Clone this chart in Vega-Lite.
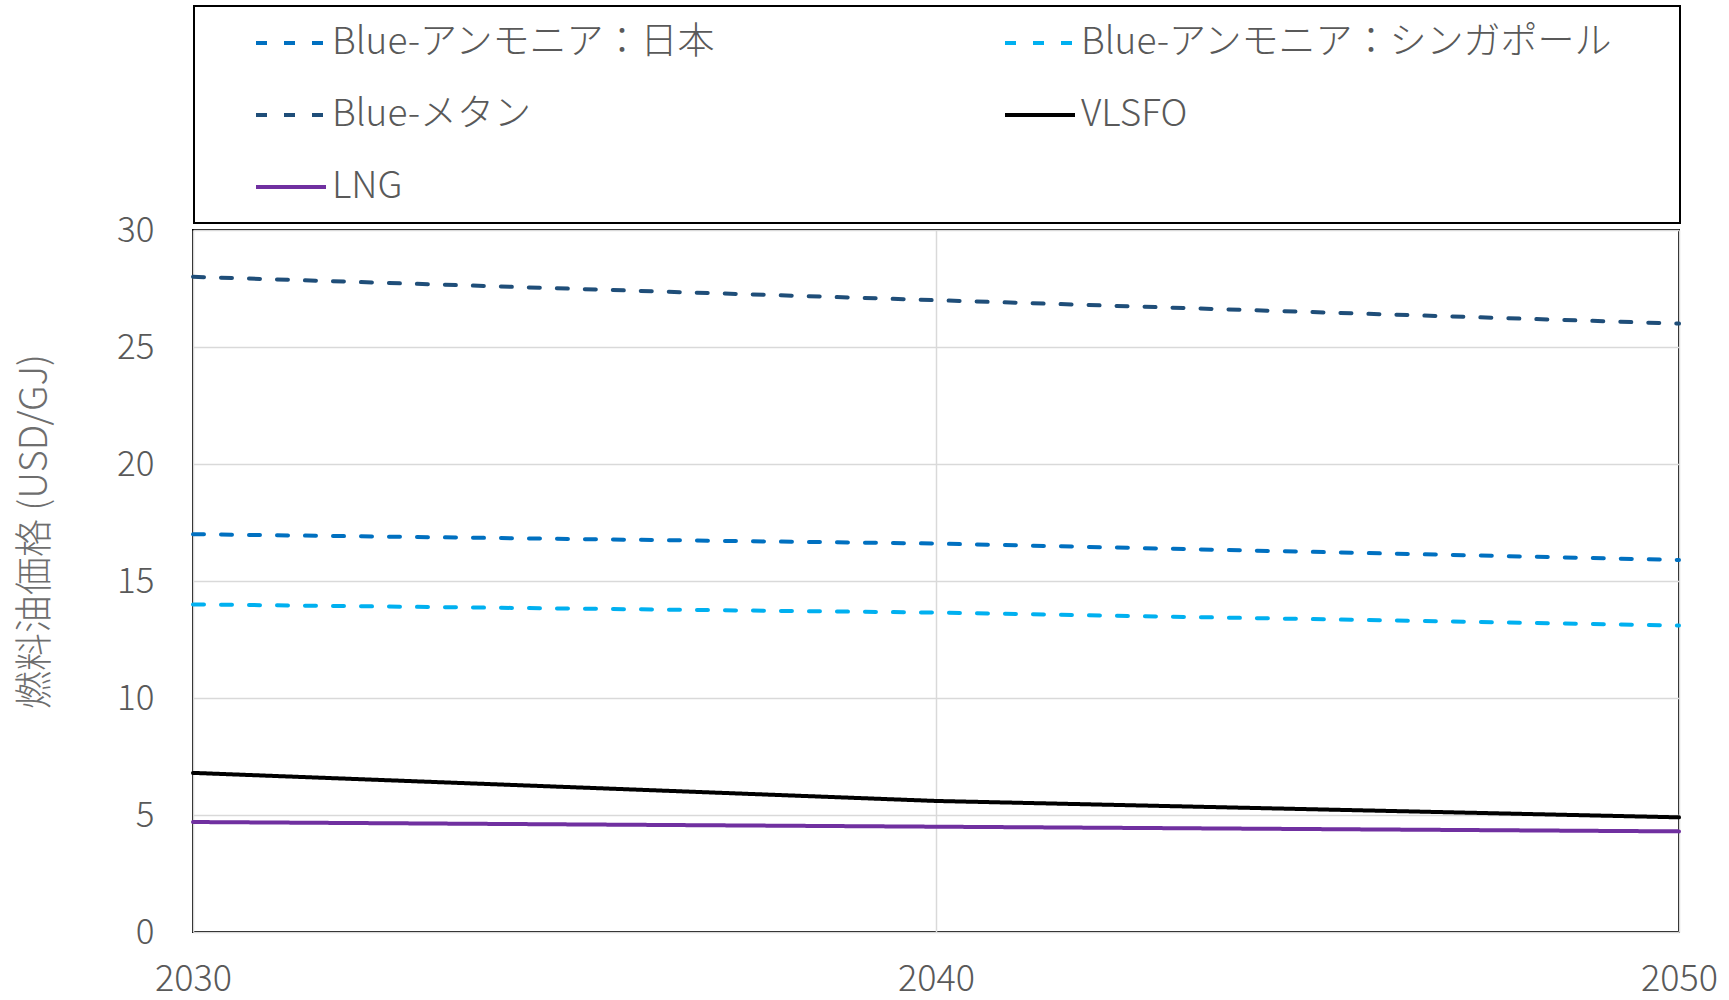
{
  "$schema": "https://vega.github.io/schema/vega-lite/v6.json",
  "width": 1486,
  "height": 702,
  "autosize": {"type": "none"},
  "padding": {"left": 193, "top": 230, "right": 50, "bottom": 68},
  "background": "white",
  "data": {
    "values": [
      {"year": 2030, "series": "Blue-アンモニア：日本", "price": 17.0},
      {"year": 2040, "series": "Blue-アンモニア：日本", "price": 16.6},
      {"year": 2050, "series": "Blue-アンモニア：日本", "price": 15.9},
      {"year": 2030, "series": "Blue-アンモニア：シンガポール", "price": 14.0},
      {"year": 2040, "series": "Blue-アンモニア：シンガポール", "price": 13.65},
      {"year": 2050, "series": "Blue-アンモニア：シンガポール", "price": 13.1},
      {"year": 2030, "series": "Blue-メタン", "price": 28.0},
      {"year": 2040, "series": "Blue-メタン", "price": 27.0},
      {"year": 2050, "series": "Blue-メタン", "price": 26.0},
      {"year": 2030, "series": "VLSFO", "price": 6.8},
      {"year": 2040, "series": "VLSFO", "price": 5.6},
      {"year": 2050, "series": "VLSFO", "price": 4.9},
      {"year": 2030, "series": "LNG", "price": 4.7},
      {"year": 2040, "series": "LNG", "price": 4.5},
      {"year": 2050, "series": "LNG", "price": 4.3}
    ]
  },
  "mark": {"type": "line", "strokeWidth": 4, "strokeCap": "round"},
  "encoding": {
    "x": {
      "field": "year",
      "type": "quantitative",
      "scale": {"domain": [2030, 2050], "nice": false, "zero": false},
      "axis": {
        "title": null,
        "values": [2030, 2040, 2050],
        "format": "d",
        "ticks": false,
        "domain": false,
        "labelFontSize": 36,
        "labelFontWeight": 300,
        "labelPadding": 30,
        "labelFlush": false,
        "labelOverlap": false,
        "gridColor": "#d9d9d9",
        "gridWidth": 1.5
      }
    },
    "y": {
      "field": "price",
      "type": "quantitative",
      "scale": {"domain": [0, 30], "nice": false},
      "axis": {
        "title": "燃料油価格 (USD/GJ)",
        "values": [0, 5, 10, 15, 20, 25, 30],
        "ticks": false,
        "domain": false,
        "labelFontSize": 35,
        "labelFontWeight": 300,
        "labelPadding": 39,
        "gridColor": "#d9d9d9",
        "gridWidth": 1.5,
        "titleFontSize": 38,
        "titleFontWeight": 300,
        "titleColor": "#6e6e6e",
        "titleAngle": -90,
        "titleX": -158,
        "titleY": 301,
        "titleAlign": "center",
        "titleBaseline": "middle"
      }
    },
    "color": {
      "field": "series",
      "type": "nominal",
      "scale": {
        "domain": ["Blue-アンモニア：日本", "Blue-アンモニア：シンガポール", "Blue-メタン", "VLSFO", "LNG"],
        "range": ["#0070C0", "#00B0F0", "#1F4E79", "#000000", "#7030A0"]
      },
      "legend": {
        "title": " ",
        "titleOrient": "right",
        "titlePadding": 67,
        "titleFontSize": 118,
        "titleBaseline": "top",
        "orient": "none",
        "legendX": 1,
        "legendY": -224,
        "columns": 2,
        "direction": "horizontal",
        "padding": 0,
        "symbolOffset": 60,
        "columnPadding": 226,
        "rowPadding": 17,
        "symbolType": "stroke",
        "symbolSize": 4900,
        "symbolStrokeWidth": 4,
        "labelOffset": 4,
        "labelFontSize": 37,
        "labelFontWeight": 300,
        "labelLimit": 1000,
        "labelColor": "#595959",
        "strokeColor": "black",
        "fillColor": "white",
        "encode": {"legend": {"update": {"strokeWidth": {"value": 2}}}}
      }
    },
    "strokeDash": {
      "field": "series",
      "type": "nominal",
      "scale": {
        "domain": ["Blue-アンモニア：日本", "Blue-アンモニア：シンガポール", "Blue-メタン", "VLSFO", "LNG"],
        "range": [[11, 17], [11, 17], [11, 17], [1, 0], [1, 0]]
      },
      "legend": null
    }
  },
  "config": {
    "font": "Noto Sans CJK JP",
    "view": {"stroke": "black", "strokeWidth": 2},
    "axis": {"labelColor": "#595959", "labelFont": "Noto Sans CJK JP"},
    "legend": {"labelFont": "Noto Sans CJK JP"}
  }
}
